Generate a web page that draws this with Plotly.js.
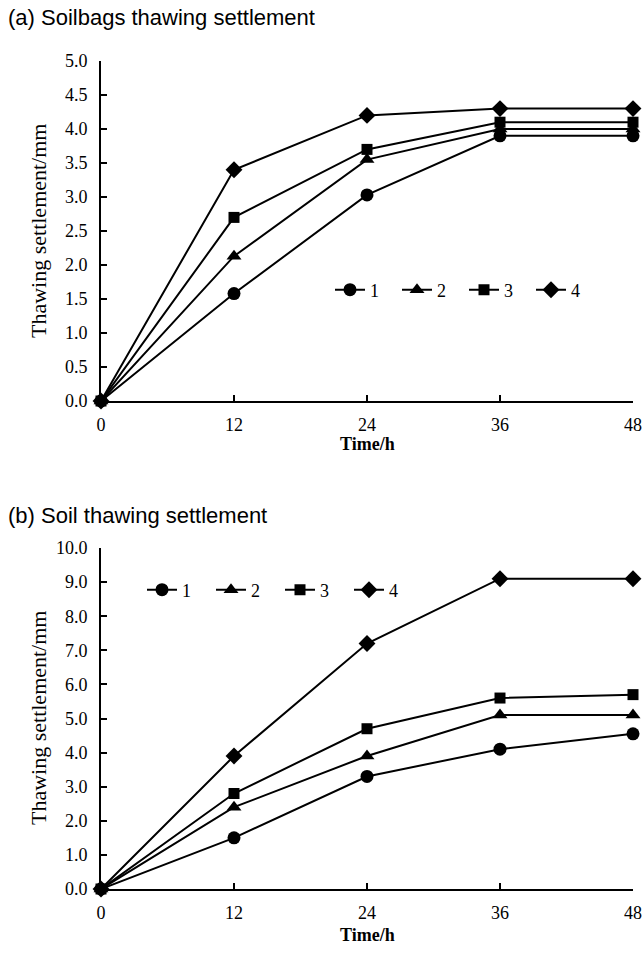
<!DOCTYPE html>
<html>
<head>
<meta charset="utf-8">
<script src="https://cdn.plot.ly/plotly-3.0.1.min.js"></script>
<style>
  html, body { margin: 0; padding: 0; background: #fff; }
  #chart { width: 644px; height: 954px; }
</style>
</head>
<body>
<div id="chart"></div>
<script>
// ---- Data ----
const timeH = [0, 12, 24, 36, 48];
const seriesNames = ['1', '2', '3', '4'];
const xTickLabels = ['0', '12', '24', '36', '48'];

// (a) Soilbags thawing settlement (mm)
const soilbags1 = [0, 1.58, 3.03, 3.9, 3.9];
const soilbags2 = [0, 2.13, 3.55, 4.0, 4.0];
const soilbags3 = [0, 2.7, 3.7, 4.1, 4.1];
const soilbags4 = [0, 3.4, 4.2, 4.3, 4.3];

// (b) Soil thawing settlement (mm)
const soil1 = [0, 1.5, 3.3, 4.1, 4.55];
const soil2 = [0, 2.4, 3.9, 5.1, 5.1];
const soil3 = [0, 2.8, 4.7, 5.6, 5.7];
const soil4 = [0, 3.9, 7.2, 9.1, 9.1];

const titleA = '(a) Soilbags thawing settlement';
const titleB = '(b) Soil thawing settlement';
const yTitle = 'Thawing settlement/mm';
const xTitle = 'Time/h';

// ---- Styling ----
const W = 644, H = 954;
const serif = 'Liberation Serif, Times New Roman, serif';
const sans = 'Liberation Sans, Arial, Helvetica, sans-serif';
const symbols = ['circle', 'triangle-up', 'square', 'diamond'];
const sizes = [13, 13, 11, 13];

function px2x(p) { return p / W; }
function px2y(p) { return 1 - p / H; }

const topSeries = [soilbags1, soilbags2, soilbags3, soilbags4];
const botSeries = [soil1, soil2, soil3, soil4];

const traces = [];
topSeries.forEach((ys, i) => {
  traces.push({
    type: 'scatter', mode: 'lines+markers', x: timeH, y: ys, name: seriesNames[i],
    xaxis: 'x', yaxis: 'y', legend: 'legend', cliponaxis: false,
    line: { color: '#000', width: 2 },
    marker: { symbol: symbols[i], size: sizes[i], color: '#000' }
  });
});
botSeries.forEach((ys, i) => {
  traces.push({
    type: 'scatter', mode: 'lines+markers', x: timeH, y: ys, name: seriesNames[i],
    xaxis: 'x2', yaxis: 'y2', legend: 'legend2', cliponaxis: false,
    line: { color: '#000', width: 2 },
    marker: { symbol: symbols[i], size: sizes[i], color: '#000' }
  });
});

const axisCommon = {
  showline: true, linecolor: '#000', linewidth: 2, mirror: false,
  showgrid: false, zeroline: false,
  ticks: 'inside', ticklen: 6, tickwidth: 2, tickcolor: '#000',
  tickfont: { family: serif, size: 18, color: '#000' }
};

const xDomain = [px2x(101), px2x(633)];

const layout = {
  width: W, height: H,
  margin: { l: 0, r: 0, t: 0, b: 0 },
  paper_bgcolor: '#fff', plot_bgcolor: '#fff',
  showlegend: true,
  xaxis: Object.assign({}, axisCommon, {
    domain: xDomain, range: [0, 48], tickvals: timeH, ticktext: xTickLabels,
    anchor: 'y', ticklabelstandoff: 6
  }),
  yaxis: Object.assign({}, axisCommon, {
    domain: [px2y(401), px2y(61)], range: [0, 5], dtick: 0.5, tick0: 0,
    tickformat: '.1f', anchor: 'x', ticklabelstandoff: 8
  }),
  xaxis2: Object.assign({}, axisCommon, {
    domain: xDomain, range: [0, 48], tickvals: timeH, ticktext: xTickLabels,
    anchor: 'y2', ticklabelstandoff: 6
  }),
  yaxis2: Object.assign({}, axisCommon, {
    domain: [px2y(889), px2y(548)], range: [0, 10], dtick: 1, tick0: 0,
    tickformat: '.1f', anchor: 'x2', ticklabelstandoff: 8
  }),
  legend: {
    orientation: 'h', x: px2x(330), xanchor: 'left', y: px2y(290), yanchor: 'middle',
    font: { family: serif, size: 18, color: '#000' }, bgcolor: 'rgba(0,0,0,0)',
    entrywidth: 22, entrywidthmode: 'pixels', tracegroupgap: 0
  },
  legend2: {
    orientation: 'h', x: px2x(142), xanchor: 'left', y: px2y(590), yanchor: 'middle',
    font: { family: serif, size: 18, color: '#000' }, bgcolor: 'rgba(0,0,0,0)',
    entrywidth: 24, entrywidthmode: 'pixels', tracegroupgap: 0
  },
  annotations: [
    { text: titleA, xref: 'paper', yref: 'paper', x: px2x(6), y: px2y(18),
      xanchor: 'left', yanchor: 'middle', showarrow: false,
      font: { family: sans, size: 22, color: '#000' } },
    { text: titleB, xref: 'paper', yref: 'paper', x: px2x(6), y: px2y(515),
      xanchor: 'left', yanchor: 'middle', showarrow: false,
      font: { family: sans, size: 22, color: '#000' } },
    { text: yTitle, xref: 'paper', yref: 'paper', x: px2x(38), y: px2y(231),
      xanchor: 'center', yanchor: 'middle', textangle: -90, showarrow: false,
      font: { family: serif, size: 22, color: '#000' } },
    { text: yTitle, xref: 'paper', yref: 'paper', x: px2x(38), y: px2y(718),
      xanchor: 'center', yanchor: 'middle', textangle: -90, showarrow: false,
      font: { family: serif, size: 22, color: '#000' } },
    { text: '<b>' + xTitle + '</b>', xref: 'paper', yref: 'paper', x: px2x(367), y: px2y(444),
      xanchor: 'center', yanchor: 'middle', showarrow: false,
      font: { family: serif, size: 18, color: '#000' } },
    { text: '<b>' + xTitle + '</b>', xref: 'paper', yref: 'paper', x: px2x(367), y: px2y(935),
      xanchor: 'center', yanchor: 'middle', showarrow: false,
      font: { family: serif, size: 18, color: '#000' } }
  ]
};

Plotly.newPlot('chart', traces, layout, { staticPlot: true, displayModeBar: false });
</script>
</body>
</html>
